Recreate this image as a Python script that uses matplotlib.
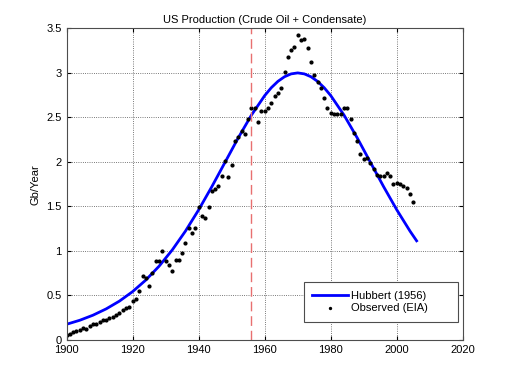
import numpy as np
import matplotlib
matplotlib.use("Agg")
import matplotlib.pyplot as plt

plt.rcParams["font.family"] = ["Liberation Sans", "DejaVu Sans"]
plt.rcParams["font.size"] = 8

# Hubbert (1956) model curve
hubbert_years = [1900, 1904, 1908, 1912, 1916, 1920, 1924, 1928, 1932, 1936,
                 1940, 1944, 1948, 1952, 1956, 1960, 1962, 1964, 1966, 1968,
                 1970, 1972, 1974, 1976, 1978, 1980, 1984, 1988, 1992, 1996,
                 2000, 2004, 2006]
hubbert_vals = [0.175, 0.220, 0.277, 0.348, 0.435, 0.542, 0.672, 0.827, 1.010, 1.222,
                1.461, 1.722, 1.996, 2.271, 2.527, 2.745, 2.834, 2.905, 2.957, 2.989,
                3.000, 2.989, 2.957, 2.905, 2.834, 2.745, 2.527, 2.271, 1.996, 1.722,
                1.461, 1.222, 1.113]

# Observed production (EIA), Gb/year, 1900-2005
obs_years = np.arange(1900, 2006)
obs_vals = [0.055, 0.066, 0.085, 0.098, 0.115, 0.130, 0.124, 0.160, 0.175, 0.180,
            0.205, 0.218, 0.222, 0.245, 0.262, 0.278, 0.298, 0.332, 0.355, 0.368,
            0.435, 0.462, 0.545, 0.720, 0.700, 0.600, 0.755, 0.890, 0.890, 0.995,
            0.886, 0.838, 0.771, 0.894, 0.894, 0.980, 1.085, 1.260, 1.200, 1.254,
            1.490, 1.390, 1.373, 1.493, 1.669, 1.700, 1.725, 1.844, 2.009, 1.833,
            1.964, 2.237, 2.282, 2.346, 2.309, 2.477, 2.610, 2.610, 2.443, 2.570,
            2.570, 2.607, 2.660, 2.735, 2.772, 2.830, 3.008, 3.180, 3.258, 3.296,
            3.430, 3.367, 3.378, 3.280, 3.120, 2.980, 2.900, 2.830, 2.720, 2.600,
            2.548, 2.533, 2.533, 2.540, 2.610, 2.600, 2.477, 2.327, 2.233, 2.084,
            2.028, 2.046, 1.983, 1.916, 1.848, 1.845, 1.845, 1.871, 1.840, 1.751,
            1.762, 1.755, 1.725, 1.706, 1.639, 1.545]

fig = plt.figure(figsize=(5.12, 3.84), dpi=100)
ax = fig.add_axes([0.130, 0.115, 0.774, 0.811])

ax.plot(hubbert_years, hubbert_vals, color="blue", linewidth=2, label="Hubbert (1956)")
ax.plot(obs_years, obs_vals, "o", color="black", markersize=2.0, linestyle="none",
        label="Observed (EIA)")
ax.axvline(1956, color="#e87070", linestyle=(0, (7, 3.5)), linewidth=1)

ax.set_xlim(1900, 2020)
ax.set_ylim(0, 3.5)
ax.set_xticks(range(1900, 2021, 20))
ax.set_yticks(np.arange(0, 3.51, 0.5))
ax.set_yticklabels(["0", "0.5", "1", "1.5", "2", "2.5", "3", "3.5"])
ax.grid(True, color="0.3", linestyle=":", linewidth=0.6)
ax.tick_params(direction="in", length=3, top=True, right=True, colors="black")
for s in ax.spines.values():
    s.set_color("0.3")
    s.set_linewidth(0.8)

ax.set_title("US Production (Crude Oil + Condensate)", fontsize=8, pad=4)
ax.set_ylabel("Gb/Year", fontsize=8)

leg = ax.legend(loc="lower left", bbox_to_anchor=(0.599, 0.058, 0.389, 0.128),
                mode="expand", borderaxespad=0, borderpad=0.75, labelspacing=0.25,
                fancybox=False, framealpha=1, edgecolor="0.3", handlelength=3.25,
                handletextpad=0.2, markerscale=0.7)
leg.get_frame().set_linewidth(0.8)

fig.savefig("out.png", dpi=100)
